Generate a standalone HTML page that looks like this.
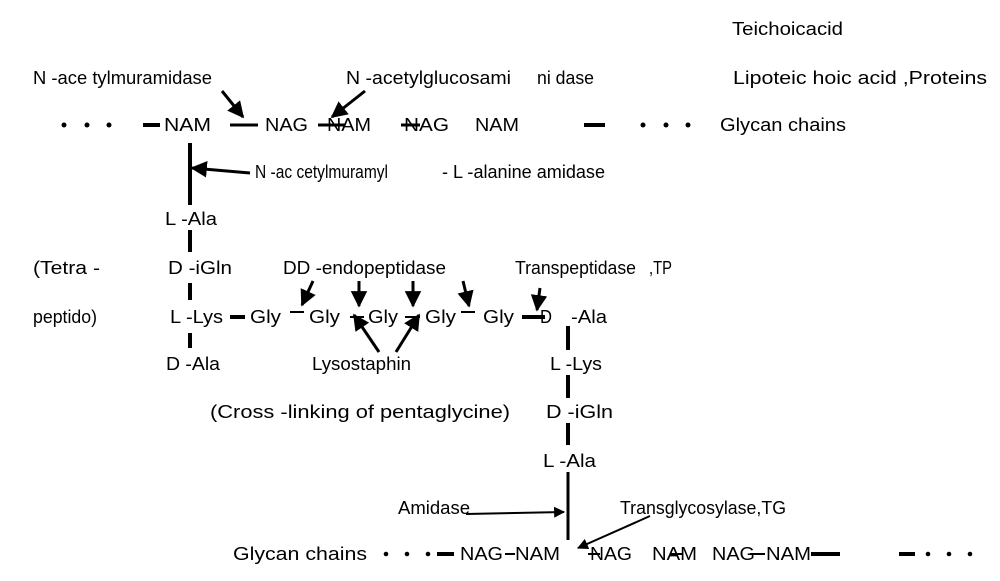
<!DOCTYPE html>
<html><head><meta charset="utf-8"><style>
html,body{margin:0;padding:0;background:#fff;}
svg{display:block}
text{font-family:"Liberation Sans",sans-serif;font-size:18px;fill:#000;}
</style></head><body>
<svg width="1000" height="581" viewBox="0 0 1000 581" xmlns="http://www.w3.org/2000/svg">
<defs>
<marker id="a" viewBox="0 0 10 10" refX="9" refY="5" markerWidth="5.5" markerHeight="5.5" orient="auto"><path d="M0,0 L10,5 L0,10 z" fill="#000"/></marker>
</defs>
<g>
<text x="732" y="35" textLength="111" lengthAdjust="spacingAndGlyphs">Teichoicacid</text>
<text x="33" y="84" textLength="179" lengthAdjust="spacingAndGlyphs">N -ace tylmuramidase</text>
<text x="346" y="84" textLength="165" lengthAdjust="spacingAndGlyphs">N -acetylglucosami</text>
<text x="537" y="84" textLength="57" lengthAdjust="spacingAndGlyphs">ni dase</text>
<text x="733" y="84" textLength="254" lengthAdjust="spacingAndGlyphs">Lipoteic hoic acid ,Proteins</text>

<text x="164" y="131" textLength="47" lengthAdjust="spacingAndGlyphs">NAM</text>
<text x="265" y="131" textLength="43" lengthAdjust="spacingAndGlyphs">NAG</text>
<text x="327" y="131" textLength="44" lengthAdjust="spacingAndGlyphs">NAM</text>
<text x="404" y="131" textLength="45" lengthAdjust="spacingAndGlyphs">NAG</text>
<text x="475" y="131" textLength="44" lengthAdjust="spacingAndGlyphs">NAM</text>
<text x="720" y="131" textLength="126" lengthAdjust="spacingAndGlyphs">Glycan chains</text>

<text x="255" y="178" textLength="133" lengthAdjust="spacingAndGlyphs">N -ac cetylmuramyl</text>
<text x="442" y="178" textLength="163" lengthAdjust="spacingAndGlyphs">- L -alanine amidase</text>
<text x="165" y="225" textLength="52" lengthAdjust="spacingAndGlyphs">L -Ala</text>
<text x="33" y="274" textLength="67" lengthAdjust="spacingAndGlyphs">(Tetra -</text>
<text x="168" y="274" textLength="64" lengthAdjust="spacingAndGlyphs">D -iGln</text>
<text x="283" y="274" textLength="163" lengthAdjust="spacingAndGlyphs">DD -endopeptidase</text>
<text x="515" y="274" textLength="121" lengthAdjust="spacingAndGlyphs">Transpeptidase</text>
<text x="649" y="274" textLength="23" lengthAdjust="spacingAndGlyphs">,TP</text>

<text x="33" y="323" textLength="64" lengthAdjust="spacingAndGlyphs">peptido)</text>
<text x="170" y="323" textLength="53" lengthAdjust="spacingAndGlyphs">L -Lys</text>
<text x="250" y="323" textLength="31" lengthAdjust="spacingAndGlyphs">Gly</text>
<text x="309" y="323" textLength="31" lengthAdjust="spacingAndGlyphs">Gly</text>
<text x="368" y="323" textLength="30" lengthAdjust="spacingAndGlyphs">Gly</text>
<text x="425" y="323" textLength="31" lengthAdjust="spacingAndGlyphs">Gly</text>
<text x="483" y="323" textLength="31" lengthAdjust="spacingAndGlyphs">Gly</text>
<text x="540" y="323" textLength="12" lengthAdjust="spacingAndGlyphs">D</text>
<text x="571" y="323" textLength="36" lengthAdjust="spacingAndGlyphs">-Ala</text>

<text x="166" y="370" textLength="54" lengthAdjust="spacingAndGlyphs">D -Ala</text>
<text x="312" y="370" textLength="99" lengthAdjust="spacingAndGlyphs">Lysostaphin</text>
<text x="550" y="370" textLength="52" lengthAdjust="spacingAndGlyphs">L -Lys</text>
<text x="210" y="418" textLength="300" lengthAdjust="spacingAndGlyphs">(Cross  -linking of   pentaglycine)</text>
<text x="546" y="418" textLength="67" lengthAdjust="spacingAndGlyphs">D -iGln</text>
<text x="543" y="467" textLength="53" lengthAdjust="spacingAndGlyphs">L -Ala</text>
<text x="398" y="514" textLength="72" lengthAdjust="spacingAndGlyphs">Amidase</text>
<text x="620" y="514" textLength="166" lengthAdjust="spacingAndGlyphs">Transglycosylase,TG</text>

<text x="233" y="560" textLength="134" lengthAdjust="spacingAndGlyphs">Glycan  chains</text>
<text x="460" y="560" textLength="43" lengthAdjust="spacingAndGlyphs">NAG</text>
<text x="515" y="560" textLength="45" lengthAdjust="spacingAndGlyphs">NAM</text>
<text x="590" y="560" textLength="42" lengthAdjust="spacingAndGlyphs">NAG</text>
<text x="652" y="560" textLength="45" lengthAdjust="spacingAndGlyphs">NAM</text>
<text x="712" y="560" textLength="43" lengthAdjust="spacingAndGlyphs">NAG</text>
<text x="766" y="560" textLength="45" lengthAdjust="spacingAndGlyphs">NAM</text>
</g>

<g fill="#000">
<circle cx="64" cy="125" r="2.5"/><circle cx="87" cy="125" r="2.5"/><circle cx="109" cy="125" r="2.5"/>
<circle cx="643" cy="125" r="2.5"/><circle cx="666" cy="125" r="2.5"/><circle cx="688" cy="125" r="2.5"/>
<circle cx="386" cy="554" r="2.3"/><circle cx="407" cy="554" r="2.3"/><circle cx="428" cy="554" r="2.3"/>
<circle cx="928" cy="554" r="2.3"/><circle cx="949" cy="554" r="2.3"/><circle cx="970" cy="554" r="2.3"/>
</g>

<g stroke="#000" fill="none">
<path stroke-width="4" d="M143,125H160 M584,125H605"/>
<path stroke-width="3" d="M230,125H258 M318,125H345 M401,125H420"/>
<path stroke-width="4" d="M190,143V205 M190,230V252 M190,283V300 M190,333V348"/>
<path stroke-width="4" d="M230,317H245 M522,317H545"/>
<path stroke-width="2" d="M290,312H304 M350,317H364 M405,317H420 M461,312H475"/>
<path stroke-width="4" d="M568,326V350 M568,375V398 M568,423V445"/>
<path stroke-width="3" d="M568,472V540"/>
<path stroke-width="4" d="M437,554H454 M811,554H840 M899,554H915"/>
<path stroke-width="2" d="M505,554H515 M588,554H600 M670,554H682 M750,554H765"/>
<g stroke-width="3" marker-end="url(#a)">
<path d="M222,91L243,117"/>
<path d="M365,91L332,117"/>
<path d="M250,173L192,168"/>
<path d="M313,281L302,305"/>
<path d="M359,281L359,306"/>
<path d="M413,281L413,306"/>
<path d="M463,281L469,306"/>
<path d="M540,288L537,310"/>
<path d="M379,352L354,315"/>
<path d="M396,352L419,315"/>
<path d="M466,514L564,512" stroke-width="2"/>
<path d="M650,516L578,548" stroke-width="2"/>
</g>
</g>
</svg>
</body></html>
